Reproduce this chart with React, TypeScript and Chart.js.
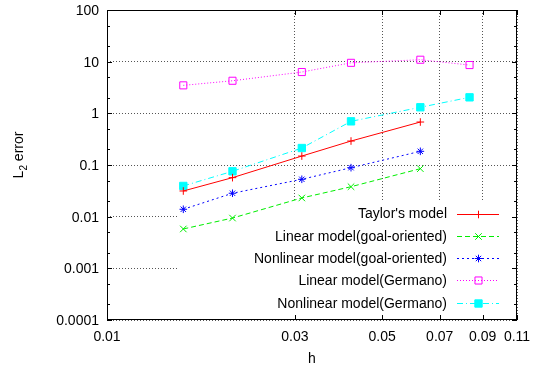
import React, { useEffect, useRef } from "react";
import { Chart, registerables } from "chart.js";

Chart.register(...registerables);

// ---- data ----
const H = [0.015625, 0.020833, 0.03125, 0.041667, 0.0625, 0.083333];
const TAYLOR = [0.0314, 0.0569, 0.149, 0.291, 0.679];
const LINEAR_GOAL = [0.00578, 0.0094, 0.023, 0.038, 0.0849];
const NONLINEAR_GOAL = [0.0139, 0.0284, 0.0529, 0.0887, 0.184];
const LINEAR_GERMANO = [3.48, 4.27, 6.3, 9.5, 10.9, 8.6];
const NONLINEAR_GERMANO = [0.0393, 0.0755, 0.213, 0.7, 1.31, 2.04];

const X_TICKS = [0.01, 0.03, 0.05, 0.07, 0.09, 0.11];
const Y_TICKS = [0.0001, 0.001, 0.01, 0.1, 1, 10, 100];
const Y_MINOR = [2, 5];

const LABELS = [
  "Taylor's model",
  "Linear model(goal-oriented)",
  "Nonlinear model(goal-oriented)",
  "Linear model(Germano)",
  "Nonlinear model(Germano)",
];
const VALUES = [TAYLOR, LINEAR_GOAL, NONLINEAR_GOAL, LINEAR_GERMANO, NONLINEAR_GERMANO];

// ---- styles ----
const STYLES = [
  { color: "#ff0000", dash: [], point: "cross", radius: 3.8, fill: false },
  { color: "#00ee00", dash: [5, 3], point: "crossRot", radius: 4.6, fill: false },
  { color: "#0000ff", dash: [2, 3], point: "star", radius: 3.8, fill: false },
  { color: "#ff00ff", dash: [1, 2], point: "rect", radius: 5, fill: false },
  { color: "#00ffff", dash: [6, 3, 1, 3], point: "rect", radius: 5.2, fill: true },
];

const FONT = "'Liberation Sans', Arial, Helvetica, sans-serif";
const FS = 14;

function drawMarker(ctx: CanvasRenderingContext2D, s: any, x: number, y: number) {
  ctx.save();
  ctx.setLineDash([]);
  ctx.lineWidth = 1;
  ctx.strokeStyle = s.color;
  ctx.fillStyle = s.color;
  const r = s.radius;
  const d = r * Math.SQRT1_2;
  ctx.beginPath();
  if (s.point === "cross" || s.point === "star") {
    ctx.moveTo(x - r, y);
    ctx.lineTo(x + r, y);
    ctx.moveTo(x, y - r);
    ctx.lineTo(x, y + r);
  }
  if (s.point === "crossRot" || s.point === "star") {
    ctx.moveTo(x - d, y - d);
    ctx.lineTo(x + d, y + d);
    ctx.moveTo(x - d, y + d);
    ctx.lineTo(x + d, y - d);
  }
  if (s.point === "rect") {
    ctx.rect(x - d, y - d, 2 * d, 2 * d);
    if (s.fill) ctx.fill();
  }
  ctx.stroke();
  ctx.restore();
}

const decor = {
  id: "decor",
  beforeDatasetsDraw(chart: any) {
    const ctx = chart.ctx as CanvasRenderingContext2D;
    const { right, bottom } = chart.chartArea;
    ctx.save();
    ctx.fillStyle = "#ffffff";
    ctx.fillRect(179, 201, right - 179, bottom - 201);
    ctx.restore();
  },
  afterDatasetsDraw(chart: any) {
    const ctx = chart.ctx as CanvasRenderingContext2D;
    ctx.save();
    ctx.font = `${FS}px ${FONT}`;
    ctx.textAlign = "right";
    ctx.textBaseline = "middle";
    ctx.fillStyle = "#000";
    LABELS.forEach((label, i) => {
      const y = 213.5 + i * 22.3;
      ctx.fillText(label, 447, y + 1);
      const s = STYLES[i];
      ctx.save();
      ctx.strokeStyle = s.color;
      ctx.lineWidth = 1;
      ctx.setLineDash(s.dash);
      ctx.beginPath();
      ctx.moveTo(457, Math.round(y) + 0.5);
      ctx.lineTo(499, Math.round(y) + 0.5);
      ctx.stroke();
      ctx.restore();
      drawMarker(ctx, s, 478.5, Math.round(y) + 0.5);
    });
    ctx.restore();
  },
  afterDraw(chart: any) {
    const ctx = chart.ctx as CanvasRenderingContext2D;
    const { left, right, top, bottom } = chart.chartArea;
    const xs = chart.scales.x;
    const ys = chart.scales.y;
    ctx.save();
    ctx.strokeStyle = "#000";
    ctx.lineWidth = 1;
    ctx.setLineDash([]);
    ctx.beginPath();
    // y ticks (inward, both sides)
    Y_TICKS.forEach((v) => {
      const py = Math.round(ys.getPixelForValue(v)) + 0.5;
      ctx.moveTo(left, py);
      ctx.lineTo(left + 5, py);
      ctx.moveTo(right, py);
      ctx.lineTo(right - 5, py);
      if (v < 100) {
        Y_MINOR.forEach((m) => {
          const pm = Math.round(ys.getPixelForValue(v * m)) + 0.5;
          ctx.moveTo(left, pm);
          ctx.lineTo(left + 3, pm);
          ctx.moveTo(right, pm);
          ctx.lineTo(right - 3, pm);
        });
      }
    });
    X_TICKS.forEach((v) => {
      const px = Math.round(xs.getPixelForValue(v)) + 0.5;
      ctx.moveTo(px, bottom);
      ctx.lineTo(px, bottom - 5);
      ctx.moveTo(px, top);
      ctx.lineTo(px, top + 5);
    });
    ctx.stroke();
    ctx.strokeRect(Math.round(left) + 0.5, Math.round(top) + 0.5, Math.round(right - left) - 1, Math.round(bottom - top) - 1);

    // tick labels
    ctx.fillStyle = "#000";
    ctx.font = `${FS}px ${FONT}`;
    ctx.textAlign = "right";
    ctx.textBaseline = "middle";
    Y_TICKS.forEach((v) => {
      ctx.fillText(String(v), left - 8, ys.getPixelForValue(v) + 1);
    });
    ctx.textAlign = "center";
    ctx.textBaseline = "alphabetic";
    X_TICKS.forEach((v) => {
      ctx.fillText(String(v), xs.getPixelForValue(v), 341);
    });

    // axis titles
    ctx.fillText("h", (left + right) / 2, 363);

    ctx.translate(23, 155);
    ctx.rotate(-Math.PI / 2);
    ctx.textAlign = "left";
    ctx.font = `${FS}px ${FONT}`;
    const wL = ctx.measureText("L").width;
    const wE = ctx.measureText(" error").width;
    ctx.font = `${FS - 4}px ${FONT}`;
    const w2 = ctx.measureText("2").width;
    let x = -(wL + w2 + wE) / 2;
    ctx.font = `${FS}px ${FONT}`;
    ctx.fillText("L", x, 0);
    x += wL;
    ctx.font = `${FS - 4}px ${FONT}`;
    ctx.fillText("2", x, 3.5);
    x += w2;
    ctx.font = `${FS}px ${FONT}`;
    ctx.fillText(" error", x, 0);
    ctx.restore();
  },
};

export default function App() {
  const ref = useRef<HTMLCanvasElement>(null);
  useEffect(() => {
    if (!ref.current) return;
    const datasets = VALUES.map((vals, i) => {
      const s = STYLES[i];
      return {
        label: LABELS[i],
        data: vals.map((y, j) => ({ x: H[j], y })),
        borderColor: s.color,
        backgroundColor: s.color,
        borderWidth: 1,
        borderDash: s.dash,
        pointStyle: s.point,
        pointRadius: s.radius,
        pointBorderWidth: 1,
        pointBorderColor: s.color,
        pointBackgroundColor: s.fill ? s.color : "rgba(0,0,0,0)",
        fill: false,
        tension: 0,
      };
    });
    const chart = new Chart(ref.current, {
      type: "line",
      data: { datasets } as any,
      options: {
        responsive: false,
        animation: false,
        devicePixelRatio: 1,
        layout: { padding: { left: 0, right: 16, top: 10, bottom: 0 } },
        plugins: { legend: { display: false }, tooltip: { enabled: false } },
        scales: {
          x: {
            type: "logarithmic",
            min: 0.01,
            max: 0.11,
            afterBuildTicks: (s: any) => {
              s.ticks = X_TICKS.map((v) => ({ value: v }));
            },
            afterFit: (s: any) => {
              s.height = 48;
            },
            grid: { color: "#555", drawTicks: false, lineWidth: 1 },
            border: { display: false, dash: [1, 2] },
            ticks: { display: false },
          },
          y: {
            type: "logarithmic",
            min: 0.0001,
            max: 100,
            afterBuildTicks: (s: any) => {
              s.ticks = Y_TICKS.map((v) => ({ value: v }));
            },
            afterFit: (s: any) => {
              s.width = 107;
            },
            grid: { color: "#555", drawTicks: false, lineWidth: 1 },
            border: { display: false, dash: [1, 2] },
            ticks: { display: false },
          },
        },
      } as any,
      plugins: [decor],
    });
    return () => chart.destroy();
  }, []);
  return (
    <div style={{ position: "fixed", left: 0, top: 0, width: 533, height: 368, background: "#fff" }}>
      <canvas ref={ref} width={533} height={368} style={{ display: "block" }} />
    </div>
  );
}
